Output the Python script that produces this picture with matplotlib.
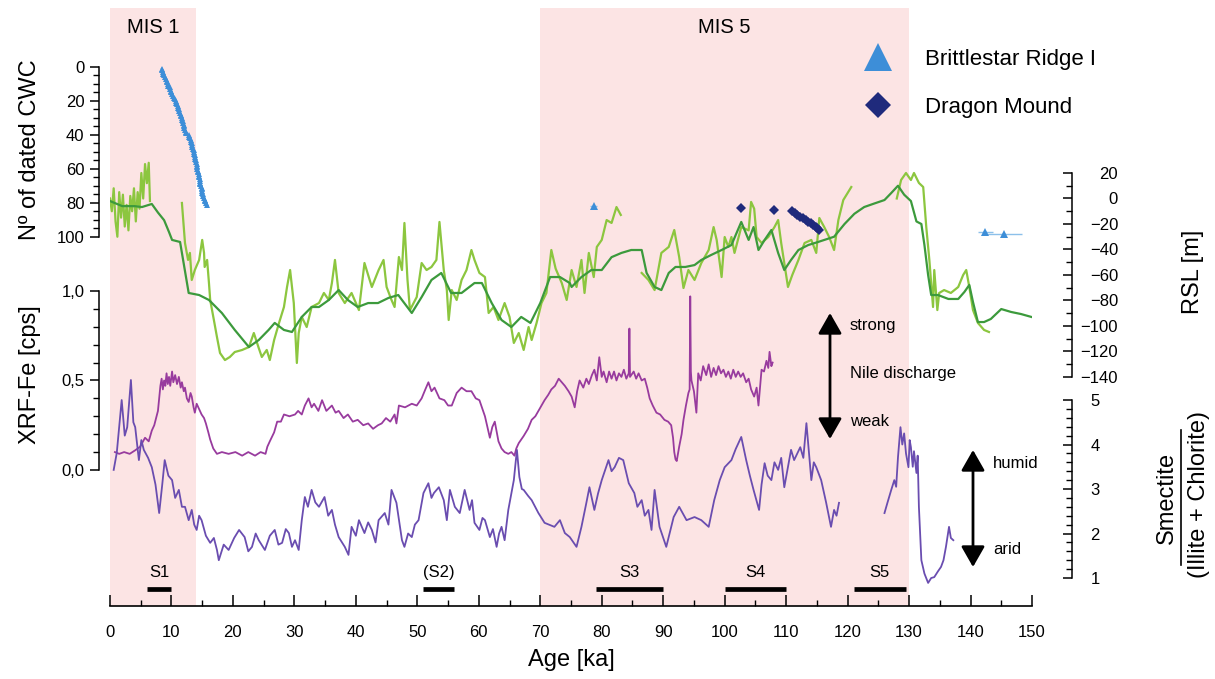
import numpy as np
import matplotlib
matplotlib.use("Agg")
import matplotlib.pyplot as plt
from matplotlib.lines import Line2D
from matplotlib.ticker import FixedLocator, FuncFormatter

# ---- data (age in ka) ----
mis_bands = [(0, 14, "MIS 1"), (70, 130, "MIS 5")]
sapropels = [("S1", 6, 10), ("(S2)", 51, 56), ("S3", 79, 90), ("S4", 100, 110), ("S5", 121, 129.5)]

# relative sea level, noisy record (light green), in segments
rsl_light = [
    [(0.0, 0), (0.3, -10), (0.6, 8), (0.9, -18), (1.2, -30), (1.5, 5), (1.8, -15), (2.1, 3), (2.4, -22),
     (2.7, -5), (3.0, -25), (3.3, 2), (3.6, -10), (3.9, 8), (4.2, -18), (4.5, 5), (4.8, -8), (5.1, 20),
     (5.4, 0), (5.7, 27), (6.0, 12), (6.3, 28), (6.5, -2)],
    [(11.7, -3.5), (12.2, -34.9), (12.7, -48.2), (13.0, -42.7), (13.3, -63.9), (13.8, -56.1), (14.5, -48.2),
     (15.0, -32.5), (15.3, -42.7), (15.4, -53.7), (15.8, -48.2), (16.1, -66.3), (16.3, -79.6), (16.9, -95.3),
     (17.4, -108.6), (17.9, -121.2), (18.7, -126.7), (19.5, -124.3), (20.3, -120.4), (21.5, -118.8),
     (22.6, -116.5), (23.4, -105.5), (24.2, -117.3), (24.7, -124.3), (25.5, -118.8), (26.0, -126.7),
     (26.7, -111.0), (27.5, -97.6), (28.3, -85.1), (28.8, -69.4), (29.3, -56.1), (29.9, -82.0),
     (30.1, -100.8), (30.4, -129.0), (30.7, -105.5), (31.2, -92.9), (32.0, -100.8), (32.8, -85.1),
     (34.0, -82.0), (34.8, -74.1), (35.6, -79.6), (36.1, -66.3), (36.6, -48.2), (37.2, -74.1),
     (38.2, -82.0), (39.3, -74.1), (40.5, -87.5), (41.4, -50.6), (42.1, -61.6), (42.6, -69.4),
     (43.7, -56.1), (44.5, -48.2), (45.0, -69.4), (45.8, -79.6), (46.3, -85.1), (47.0, -45.9),
     (47.5, -56.1), (47.9, -19.2), (48.4, -63.9), (48.8, -87.5), (49.9, -77.3), (50.7, -50.6),
     (51.5, -56.1), (52.3, -53.7), (53.1, -48.2), (53.6, -18.4), (54.3, -56.1), (54.8, -71.8),
     (55.1, -95.3), (55.6, -71.8), (56.4, -79.6), (57.2, -63.9), (58.0, -56.1), (58.8, -40.4),
     (59.3, -48.2), (60.1, -58.4), (61.0, -61.6), (61.6, -89.8), (62.4, -85.1), (63.2, -95.3),
     (64.2, -82.0), (65.0, -92.9), (65.7, -113.3), (66.5, -105.5), (67.3, -118.8), (68.1, -100.8),
     (68.6, -111.0), (69.4, -97.6), (70.2, -82.0), (71.0, -74.1), (71.8, -40.4), (72.5, -55.0),
     (73.5, -66.3), (74.3, -79.6), (75.1, -56.1), (75.9, -69.4), (76.7, -48.2), (77.2, -74.1),
     (77.9, -42.7), (78.7, -61.6), (79.2, -38.0), (80.0, -32.5), (80.8, -16.9), (81.6, -19.2),
     (82.4, -6.7), (83.1, -12.9)],
    [(86.5, -58.4), (87.6, -63.9), (88.6, -71.8), (89.7, -42.7), (90.9, -38.0), (91.8, -24.7),
     (92.6, -45.9), (93.3, -70.2), (94.1, -56.1), (95.1, -63.9), (96.2, -50.6), (97.4, -40.4),
     (98.2, -22.4), (98.7, -32.5), (99.5, -61.6), (100.0, -30.2), (100.6, -38.0), (101.1, -30.2),
     (101.6, -42.7), (102.7, -22.4), (103.9, -25.0), (104.3, -2.7), (104.8, -8.0), (105.2, -30.2),
     (106.0, -34.9), (107.1, -30.2), (108.1, -22.4), (108.7, -16.9), (109.2, -35.0), (110.3, -69.4),
     (111.0, -60.0), (112.0, -48.2), (113.0, -34.9), (114.1, -32.5), (114.9, -42.7), (115.4, -15.3),
     (116.2, -22.4), (117.0, -30.2), (117.8, -40.4), (118.5, -16.9), (119.3, -1.2), (120.6, 9.0)],
    [(128.0, 0.0), (128.7, 14.5), (129.5, 20.0), (130.3, 14.5), (130.8, 20.0), (131.6, 12.2),
     (132.3, 9.0), (132.8, -22.4), (133.3, -48.2), (133.9, -85.1), (134.1, -56.1), (134.6, -87.5),
     (134.9, -74.1), (135.7, -71.8), (136.8, -74.1), (138.0, -69.4), (138.8, -60.0), (139.3, -56.1),
     (139.8, -69.4), (140.4, -87.5), (141.2, -97.6), (142.2, -103.1), (143.0, -104.7)],
]

# relative sea level, smooth record (dark green)
rsl_dark = [
    (0.0, -2), (2.0, -6), (4.0, -6), (5.2, -6.7), (6.8, -4.3), (7.8, -11), (8.8, -17), (9.6, -26.3),
    (10.1, -32.5), (11.4, -34.1), (12.8, -74.1), (14.5, -75.7), (16.1, -79.6), (18.2, -89.8),
    (20.3, -103.1), (22.6, -116.5), (24.2, -111.0), (25.8, -103.1), (26.8, -97.6), (28.3, -103.1),
    (29.6, -104.7), (31.2, -92.9), (32.8, -85.1), (34.0, -85.1), (35.6, -79.6), (37.2, -71.8),
    (38.7, -79.6), (40.3, -85.1), (42.0, -82.0), (43.6, -82.0), (45.3, -78.0), (46.9, -75.7),
    (47.5, -79.6), (49.1, -89.8), (50.7, -77.3), (52.3, -63.9), (53.9, -58.4), (55.5, -74.1),
    (57.2, -74.1), (59.3, -66.3), (60.5, -66.3), (62.1, -82.0), (63.7, -95.3), (65.3, -100.8),
    (66.9, -92.9), (68.4, -97.6), (70.0, -82.0), (71.6, -61.6), (73.2, -61.6), (74.8, -66.3),
    (75.1, -69.4), (76.7, -61.6), (78.3, -56.1), (80.0, -56.1), (81.6, -46.0), (83.2, -42.7),
    (84.8, -40.4), (86.5, -40.4), (87.3, -58.4), (88.6, -69.4), (89.7, -71.8), (90.9, -58.4),
    (92.0, -53.7), (93.6, -53.7), (95.1, -52.2), (96.2, -48.2), (97.8, -44.3), (99.5, -40.4),
    (101.1, -36.5), (102.7, -18.4), (103.9, -32.5), (104.7, -22.4), (105.5, -40.4), (106.5, -32.5),
    (107.6, -24.7), (108.7, -42.7), (109.7, -56.1), (110.8, -48.2), (112.0, -40.4), (113.6, -36.5),
    (115.2, -34.1), (117.8, -30.0), (119.5, -20.0), (121.1, -12.0), (122.7, -6.7), (124.3, -4.0),
    (126.0, -1.2), (127.1, 4.3), (128.2, 10.0), (129.2, 3.0), (130.3, -2.0), (131.2, -18.0),
    (132.0, -20.0), (132.5, -36.5), (133.1, -60.0), (133.6, -75.7), (134.7, -75.7), (136.4, -78.8),
    (138.0, -78.8), (139.0, -73.3), (139.8, -67.8), (140.4, -81.2), (141.2, -96.9), (142.2, -96.9),
    (143.3, -94.5), (145.0, -86.7), (146.6, -89.0), (148.2, -90.6), (149.9, -92.9),
]

# XRF Fe counts
xrf_fe = [
    (0.8, 0.10), (1.5, 0.09), (2.3, 0.10), (3.2, 0.09), (4.1, 0.11), (4.9, 0.13), (5.7, 0.18), (6.3, 0.16),
    (6.8, 0.22), (7.2, 0.25), (7.5, 0.29), (7.8, 0.33), (8.0, 0.40), (8.2, 0.47), (8.4, 0.51), (8.6, 0.45),
    (8.8, 0.50), (9.0, 0.47), (9.2, 0.54), (9.4, 0.48), (9.6, 0.52), (9.8, 0.47), (10.1, 0.55), (10.3, 0.49),
    (10.6, 0.53), (10.9, 0.48), (11.2, 0.52), (11.5, 0.46), (11.7, 0.49), (12.0, 0.44), (12.2, 0.46),
    (12.5, 0.40), (12.8, 0.38), (13.1, 0.43), (13.3, 0.41), (13.6, 0.35), (13.8, 0.32), (14.1, 0.37),
    (14.5, 0.34), (14.9, 0.31), (15.3, 0.29), (15.6, 0.26), (16.0, 0.21), (16.3, 0.17), (16.8, 0.12),
    (17.4, 0.09), (18.2, 0.10), (19.3, 0.09), (20.4, 0.10), (21.5, 0.08), (22.5, 0.10), (23.6, 0.08),
    (24.5, 0.10), (25.3, 0.09), (25.6, 0.13), (26.0, 0.16), (26.7, 0.21), (27.2, 0.27), (27.8, 0.27),
    (28.3, 0.31), (29.2, 0.30), (30.1, 0.31), (30.6, 0.33), (31.2, 0.31), (31.7, 0.36), (32.3, 0.40),
    (32.8, 0.35), (33.2, 0.37), (33.9, 0.33), (34.5, 0.39), (35.2, 0.33), (36.1, 0.36), (36.7, 0.32),
    (37.2, 0.33), (38.0, 0.29), (38.7, 0.31), (39.5, 0.27), (40.3, 0.28), (41.2, 0.25), (42.0, 0.26),
    (42.8, 0.23), (43.6, 0.25), (44.2, 0.26), (44.9, 0.29), (45.6, 0.27), (46.3, 0.31), (46.6, 0.26),
    (47.0, 0.36), (48.0, 0.35), (49.1, 0.37), (49.9, 0.36), (50.7, 0.40), (51.3, 0.45), (51.8, 0.49),
    (52.3, 0.44), (52.8, 0.46), (53.6, 0.40), (54.4, 0.39), (55.0, 0.36), (55.6, 0.36), (56.4, 0.43),
    (57.2, 0.46), (58.0, 0.44), (58.8, 0.44), (59.5, 0.40), (60.1, 0.39), (60.6, 0.34), (61.0, 0.30),
    (61.4, 0.24), (61.8, 0.18), (62.2, 0.24), (62.6, 0.27), (63.2, 0.16), (63.7, 0.12), (64.2, 0.10),
    (64.8, 0.09), (65.3, 0.10), (65.8, 0.08), (66.1, 0.12), (66.5, 0.15), (67.3, 0.19), (68.0, 0.23),
    (68.6, 0.28), (69.2, 0.30), (69.7, 0.33), (70.2, 0.36), (70.7, 0.39), (71.3, 0.42), (71.8, 0.45),
    (72.4, 0.47), (73.0, 0.51), (73.5, 0.49), (74.0, 0.47), (74.6, 0.44), (75.1, 0.41), (75.6, 0.35),
    (76.0, 0.44), (76.4, 0.50), (77.0, 0.46), (77.5, 0.51), (77.9, 0.48), (78.4, 0.53), (78.8, 0.56),
    (79.2, 0.50), (79.6, 0.63), (80.0, 0.52), (80.3, 0.55), (80.8, 0.49), (81.2, 0.55), (81.6, 0.51),
    (82.0, 0.55), (82.4, 0.50), (82.8, 0.54), (83.2, 0.52), (83.6, 0.56), (84.0, 0.51), (84.4, 0.54),
    (84.5, 0.79), (84.6, 0.52), (85.2, 0.55), (85.6, 0.51), (86.0, 0.54), (86.5, 0.50), (87.0, 0.51),
    (87.4, 0.46), (87.8, 0.40), (88.3, 0.36), (88.9, 0.32), (89.5, 0.31), (90.2, 0.28), (90.8, 0.27),
    (91.3, 0.25), (91.6, 0.18), (91.8, 0.10), (92.0, 0.06), (92.2, 0.05), (92.4, 0.09), (92.6, 0.13),
    (93.0, 0.20), (93.3, 0.28), (93.7, 0.36), (94.1, 0.43), (94.3, 0.45), (94.4, 0.97), (94.5, 0.55),
    (94.6, 0.50), (95.0, 0.44), (95.4, 0.32), (95.7, 0.54), (96.1, 0.50), (96.5, 0.58), (97.0, 0.53),
    (97.4, 0.59), (97.8, 0.52), (98.2, 0.57), (98.6, 0.53), (99.0, 0.58), (99.4, 0.54), (99.8, 0.56),
    (100.2, 0.52), (100.6, 0.55), (101.0, 0.51), (101.4, 0.56), (101.8, 0.52), (102.2, 0.55),
    (102.6, 0.52), (103.0, 0.54), (103.5, 0.49), (103.9, 0.51), (104.3, 0.45), (104.8, 0.41),
    (105.2, 0.46), (105.5, 0.36), (105.8, 0.48), (106.0, 0.56), (106.4, 0.55), (106.8, 0.61),
    (107.1, 0.57), (107.3, 0.66), (107.6, 0.58), (107.8, 0.60),
]

# Smectite / (Illite + Chlorite)
clay_ratio = [
    [(0.6, 3.43), (1.1, 3.81), (1.9, 5.0), (2.4, 4.2), (2.8, 4.39), (3.4, 5.45), (3.8, 4.5), (4.1, 4.39),
     (4.7, 3.65), (5.1, 4.1), (5.5, 3.88), (6.2, 3.7), (6.8, 3.49), (7.4, 3.1), (8.0, 2.46), (8.5, 3.1),
     (8.9, 3.65), (9.5, 3.3), (10.1, 3.20), (10.6, 2.8), (11.2, 2.98), (11.7, 2.6), (12.2, 2.60),
     (12.8, 2.3), (13.3, 2.53), (13.7, 2.2), (14.1, 2.08), (14.5, 2.4), (14.9, 2.30), (15.6, 1.95),
     (16.3, 1.79), (16.9, 1.9), (17.4, 1.63), (17.7, 1.40), (18.5, 1.75), (19.3, 1.63), (20.2, 1.9),
     (21.0, 2.08), (21.9, 1.92), (22.5, 1.6), (23.1, 1.70), (23.7, 2.0), (24.2, 1.85), (25.2, 1.63),
     (26.0, 1.95), (26.8, 2.08), (27.4, 1.75), (28.0, 1.79), (28.6, 2.1), (29.1, 2.01), (29.6, 1.7),
     (30.1, 1.85), (30.7, 1.63), (31.2, 2.30), (31.7, 2.82), (32.2, 2.6), (32.8, 2.98), (33.4, 2.7),
     (34.0, 2.60), (34.9, 2.82), (35.5, 2.4), (36.1, 2.53), (36.6, 2.2), (37.2, 1.92), (38.2, 1.70),
     (38.8, 1.52), (39.3, 2.15), (40.0, 1.95), (40.5, 2.30), (41.4, 2.01), (42.0, 2.25), (42.6, 2.08),
     (43.2, 1.8), (43.7, 2.30), (44.7, 2.46), (45.3, 2.2), (45.8, 2.98), (46.6, 2.69), (47.5, 1.85),
     (47.9, 1.70), (48.5, 2.0), (49.1, 1.92), (49.6, 2.2), (50.2, 2.30), (51.0, 2.91), (51.8, 3.13),
     (52.3, 2.8), (52.7, 2.91), (53.5, 3.04), (54.3, 2.75), (54.8, 2.30), (55.3, 2.98), (56.1, 2.60),
     (56.9, 2.46), (57.7, 2.98), (58.5, 2.53), (58.9, 2.75), (59.3, 2.24), (60.1, 2.08), (60.6, 2.35),
     (61.0, 2.30), (61.8, 1.92), (62.3, 2.1), (62.9, 1.70), (63.3, 2.0), (63.7, 2.15), (64.2, 1.85),
     (64.8, 2.53), (65.3, 2.9), (65.7, 3.20), (66.2, 3.88), (66.6, 3.27), (67.0, 3.0), (67.3, 2.98),
     (68.0, 2.85), (68.6, 2.75), (69.7, 2.46), (70.7, 2.24), (72.3, 2.15), (73.2, 2.3), (74.0, 2.01),
     (74.8, 1.92), (75.9, 1.70), (76.7, 2.15), (77.5, 2.69), (78.0, 3.04), (78.8, 2.53), (79.4, 2.9),
     (80.0, 3.20), (81.1, 3.65), (81.6, 3.4), (82.1, 3.49), (82.8, 3.7), (83.5, 3.65), (84.4, 3.13),
     (85.3, 2.91), (85.8, 2.6), (86.5, 2.75), (87.0, 2.4), (87.6, 2.53), (88.1, 2.08), (88.6, 2.98),
     (89.4, 2.15), (90.5, 1.70), (91.7, 2.37), (92.6, 2.60), (93.8, 2.30), (95.1, 2.37), (96.2, 2.30),
     (97.4, 2.15), (98.3, 2.75), (99.2, 3.2), (100.0, 3.49), (101.1, 3.65), (101.8, 3.9), (102.7, 4.17),
     (103.5, 3.65), (104.1, 3.3), (104.7, 2.98), (105.6, 2.53), (106.0, 3.1), (106.5, 3.58), (107.0, 3.3),
     (107.6, 3.20), (108.1, 3.6), (108.7, 3.43), (109.2, 3.7), (109.7, 3.04), (110.3, 3.5), (110.8, 3.88),
     (111.3, 3.65), (112.3, 3.94), (112.8, 3.7), (113.3, 4.48), (114.1, 3.20), (114.5, 3.6), (114.9, 3.49),
     (115.7, 3.20), (116.5, 2.7), (117.3, 2.15), (117.8, 2.53), (118.2, 2.4), (118.6, 2.69)],
    [(126.0, 2.46), (126.5, 2.70), (127.1, 2.98), (127.6, 3.20), (127.9, 3.05), (128.2, 3.72), (128.6, 4.39),
     (128.9, 4.00), (129.2, 4.25), (129.5, 3.80), (129.9, 3.49), (130.1, 4.10), (130.3, 3.94), (130.6, 3.50),
     (130.8, 3.85), (131.2, 3.36), (131.4, 3.75), (131.6, 2.60), (132.0, 1.40), (132.5, 1.10), (133.1, 0.89),
     (133.6, 1.00), (134.1, 1.02), (134.7, 1.15), (135.2, 1.25), (135.6, 1.40), (136.0, 1.70), (136.5, 2.15),
     (136.8, 1.90), (137.2, 1.85)],
]

# cumulative number of dated cold-water corals
brittlestar_holocene_age = [
    8.4, 8.5, 8.6, 8.7, 8.8, 8.9, 9.1, 9.2, 9.3, 9.4,
    9.5, 9.7, 9.8, 9.9, 10.0, 10.1, 10.3, 10.4, 10.6, 10.7,
    10.8, 10.9, 11.0, 11.1, 11.2, 11.3, 11.4, 11.5, 11.6, 11.7,
    11.7, 11.8, 11.9, 12.0, 12.0, 12.1, 12.2, 12.3, 12.4, 12.8,
    12.9, 13.0, 13.1, 13.2, 13.3, 13.3, 13.4, 13.5, 13.6, 13.7,
    13.7, 13.8, 13.9, 13.9, 14.0, 14.0, 14.1, 14.1, 14.2, 14.2,
    14.3, 14.3, 14.4, 14.4, 14.5, 14.6, 14.6, 14.7, 14.7, 14.8,
    14.9, 14.9, 15.0, 15.0, 15.1, 15.2, 15.3, 15.4, 15.5, 15.6, 15.8,
]
brittlestar_holocene_n = list(range(1, 82))
brittlestar_old_age = [78.7, 142.4, 145.5]
brittlestar_old_n = [82, 97, 98]
brittlestar_old_err = [0.6, 1.2, 2.8]
dragon_age = [102.7, 108.1, 110.9, 111.4, 111.8, 112.3, 112.7, 113.2, 113.6, 114.0, 114.4, 114.8, 115.1, 115.4]
dragon_n = [83, 84, 85, 86, 87, 88, 89, 90, 91, 92, 93, 94, 95, 96]

# ---- styling ----
PINK = "#fce4e4"
LIGHT_GREEN = "#8cc63f"
DARK_GREEN = "#3c9a3c"
MAGENTA = "#983b9e"
PURPLE = "#6a4db0"
BLUE = "#3d8ed8"
NAVY = "#1f2a7c"

W, H = 1215, 679
TICK_FS = 12
LABEL_FS = 17


def fx(px):
    return px / W


def fy(py):
    return 1 - py / H


def comma(v, pos):
    return f"{v:.1f}".replace(".", ",")


plt.rcParams["font.family"] = ["Liberation Sans", "DejaVu Sans"]
fig = plt.figure(figsize=(W / 100, H / 100), dpi=100)
x_left, x_right, y_top, y_bottom = 110, 1032, 8, 606
rect = [fx(x_left), fy(y_bottom), fx(x_right) - fx(x_left), fy(y_top) - fy(y_bottom)]

ax = fig.add_axes(rect)
ax.set_xlim(0, 150)
ax.set_ylim(0, 1)
for side in ("left", "right", "top"):
    ax.spines[side].set_visible(False)
ax.spines["bottom"].set_linewidth(1.2)
ax.set_yticks([])
ax.set_xticks(range(0, 151, 10))
ax.xaxis.set_minor_locator(FixedLocator(np.arange(5, 150, 10)))
ax.tick_params(axis="x", which="major", direction="in", length=8, width=1.1, labelsize=TICK_FS, pad=14)
ax.tick_params(axis="x", which="minor", direction="in", length=4.5, width=1.0)
ax.set_xlabel("Age [ka]", fontsize=LABEL_FS)
ax.xaxis.set_label_coords(0.5, -0.072)

for start, end, label in mis_bands:
    ax.axvspan(start, end, color=PINK, lw=0, zorder=0)
    ax.text((start + end) / 2, 0.968, label, ha="center", va="center", fontsize=14.5)

for label, start, end in sapropels:
    ax.plot([start, end], [0.028, 0.028], color="black", lw=3.4, solid_capstyle="butt")
    ax.text((start + end) / 2, 0.056, label, ha="center", va="center", fontsize=TICK_FS)


def overlay(ylim, side, offset, bounds):
    a = fig.add_axes(rect, sharex=ax)
    a.patch.set_visible(False)
    a.xaxis.set_visible(False)
    for s in a.spines.values():
        s.set_visible(False)
    a.spines[side].set_visible(True)
    a.spines[side].set_position(("outward", offset))
    a.spines[side].set_bounds(*bounds)
    a.spines[side].set_linewidth(1.1)
    if side == "right":
        a.yaxis.tick_right()
    else:
        a.yaxis.tick_left()
    a.set_ylim(*ylim)
    return a


# sea level
ax_rsl = overlay((-319.6, 149.4), "right", 29, (-140, 20))
for seg in rsl_light:
    t, v = np.array(seg).T
    ax_rsl.plot(t, v, color=LIGHT_GREEN, lw=1.6)
t, v = np.array(rsl_dark).T
ax_rsl.plot(t, v, color=DARK_GREEN, lw=1.6)
ax_rsl.yaxis.set_major_locator(FixedLocator(range(-140, 21, 20)))
ax_rsl.yaxis.set_minor_locator(FixedLocator(range(-130, 20, 20)))
ax_rsl.tick_params(axis="y", which="major", direction="in", length=6.5, width=1.1, labelsize=TICK_FS, pad=33)
ax_rsl.tick_params(axis="y", which="minor", direction="in", length=4, width=1.0)
for lab in ax_rsl.get_yticklabels():
    lab.set_horizontalalignment("right")

# XRF Fe
ax_fe = overlay((-0.760, 2.581), "left", 8, (0, 1))
t, v = np.array(xrf_fe).T
ax_fe.plot(t, v, color=MAGENTA, lw=1.3)
ax_fe.yaxis.set_major_locator(FixedLocator([0, 0.5, 1.0]))
ax_fe.yaxis.set_minor_locator(FixedLocator(np.arange(0.1, 1.0, 0.1)))
ax_fe.yaxis.set_major_formatter(FuncFormatter(comma))
ax_fe.tick_params(axis="y", which="major", direction="out", length=6.5, width=1.1, labelsize=TICK_FS, pad=4)
ax_fe.tick_params(axis="y", which="minor", direction="out", length=4, width=1.0)

# clay ratio
ax_clay = overlay((0.371, 13.81), "right", 29, (1, 5))
for seg in clay_ratio:
    t, v = np.array(seg).T
    ax_clay.plot(t, v, color=PURPLE, lw=1.3)
ax_clay.yaxis.set_major_locator(FixedLocator([1, 2, 3, 4, 5]))
ax_clay.yaxis.set_minor_locator(FixedLocator(np.arange(1.2, 5.0, 0.2)))
ax_clay.tick_params(axis="y", which="major", direction="in", length=6.5, width=1.1, labelsize=TICK_FS, pad=13)
ax_clay.tick_params(axis="y", which="minor", direction="in", length=4, width=1.0)

# dated corals
ax_cwc = overlay((317.1, -34.7), "left", 8, (0, 100))
ax_cwc.plot(brittlestar_holocene_age, brittlestar_holocene_n, color=BLUE, lw=1.2,
            marker="^", ms=4, mew=0)
ax_cwc.errorbar(brittlestar_old_age, brittlestar_old_n, xerr=brittlestar_old_err, fmt="^",
                color=BLUE, ms=6, mew=0, elinewidth=1.0, ecolor="#8cc0ea", capsize=0)
ax_cwc.plot(dragon_age, dragon_n, color=NAVY, ls="none", marker="D", ms=5, mew=0)
ax_cwc.yaxis.set_major_locator(FixedLocator(range(0, 101, 20)))
ax_cwc.yaxis.set_minor_locator(FixedLocator(range(5, 100, 5)))
ax_cwc.tick_params(axis="y", which="major", direction="out", length=6.5, width=1.1, labelsize=TICK_FS, pad=4)
ax_cwc.tick_params(axis="y", which="minor", direction="out", length=4, width=1.0)

handles = [Line2D([], [], ls="none", marker="^", ms=20, color=BLUE, mew=0),
           Line2D([], [], ls="none", marker="D", ms=13, color=NAVY, mew=0)]
ax_cwc.legend(handles, ["Brittlestar Ridge I", "Dragon Mound"], loc="upper left",
              bbox_to_anchor=(fx(851), fy(40)), bbox_transform=fig.transFigure, frameon=False,
              fontsize=16, handlelength=1.6, handletextpad=1.33, labelspacing=1.2, borderaxespad=0)

# axis titles
fig.text(fx(30), fy(150), "N\u00ba of dated CWC", rotation=90, ha="center", va="center", fontsize=LABEL_FS)
fig.text(fx(30), fy(375), "XRF-Fe [cps]", rotation=90, ha="center", va="center", fontsize=LABEL_FS)
fig.text(fx(1193), fy(272), "RSL [m]", rotation=90, ha="center", va="center", fontsize=LABEL_FS)
fig.text(fx(1167), fy(498), "Smectite", rotation=90, ha="center", va="center", fontsize=LABEL_FS)
fig.add_artist(Line2D([fx(1181), fx(1181)], [fy(430), fy(565)], color="black", lw=1.2))
fig.text(fx(1199), fy(495), "(Illite + Chlorite)", rotation=90, ha="center", va="center", fontsize=LABEL_FS)

# discharge / humidity arrows
arrow = dict(arrowstyle="<|-|>,head_length=0.7,head_width=0.4", color="black", lw=2, mutation_scale=18,
             shrinkA=0, shrinkB=0)
fig.add_artist(plt.Annotation("", xy=(fx(830), fy(313)), xytext=(fx(830), fy(439)),
                              xycoords="figure fraction", textcoords="figure fraction", arrowprops=arrow))
fig.add_artist(plt.Annotation("", xy=(fx(973), fy(450)), xytext=(fx(973), fy(567)),
                              xycoords="figure fraction", textcoords="figure fraction", arrowprops=arrow))
for text, px, py in [("strong", 850, 325), ("Nile discharge", 850, 373), ("weak", 850, 421),
                     ("humid", 993, 464), ("arid", 993, 549)]:
    fig.text(fx(px), fy(py), text, ha="left", va="center", fontsize=12)

fig.savefig("out.png", dpi=100)
